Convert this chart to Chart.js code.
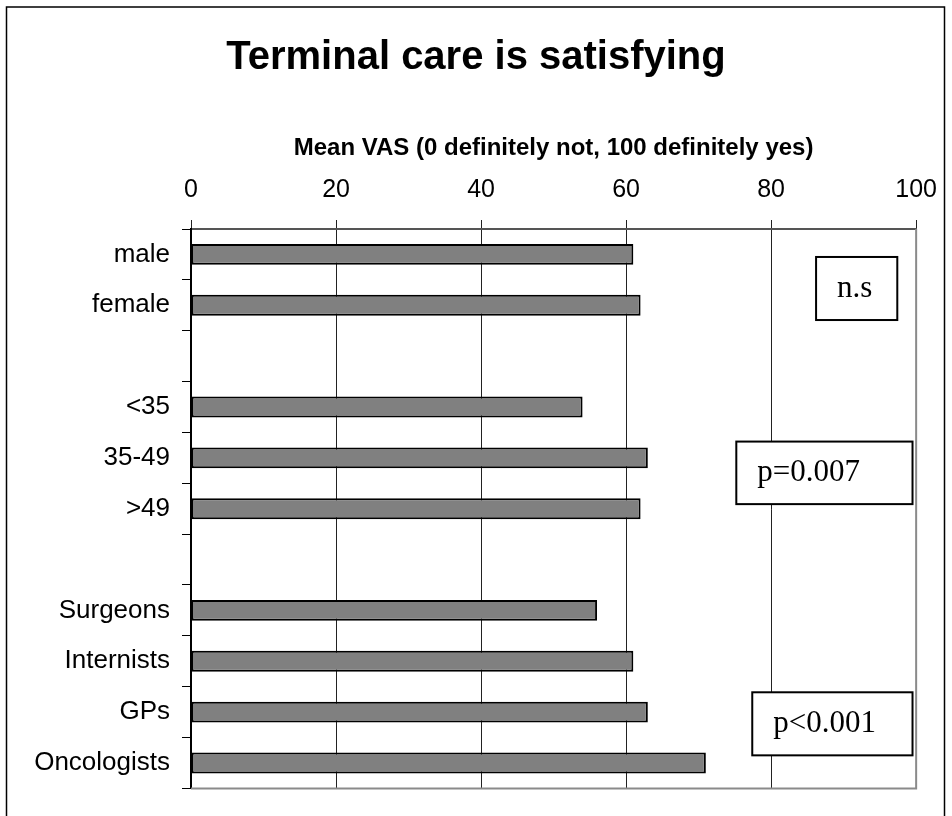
<!DOCTYPE html>
<html>
<head>
<meta charset="utf-8">
<script src="https://cdn.jsdelivr.net/npm/chart.js@4.4.0/dist/chart.umd.min.js"></script>
<style>
  html, body { margin: 0; padding: 0; background: #fff; }
  #wrap { width: 952px; height: 816px; }
</style>
</head>
<body>
<div id="wrap"><canvas id="chart" width="952" height="816"></canvas></div>
<script>
// groups are separated by empty rows, as in the original
var categories = ['male', 'female', '', '<35', '35-49', '>49', '', 'Surgeons', 'Internists', 'GPs', 'Oncologists'];
var meanVas = [61, 62, null, 54, 63, 62, null, 56, 61, 63, 71];
var xTicks = [0, 20, 40, 60, 80, 100];
var groupNotes = ['n.s', 'p=0.007', 'p<0.001'];

// note boxes, in axis units (x = VAS, y = category index)
var noteBoxes = [
   { x0: 86.2, x1: 97.4, y0: 0.05, y1: 1.29 },
   { x0: 75.2, x1: 99.5, y0: 3.68, y1: 4.91 },
   { x0: 77.4, x1: 99.5, y0: 8.61, y1: 9.85 }
];

var notesPlugin = {
   id: 'notes',
   afterDraw: function(chart) {
      var ctx = chart.ctx, xs = chart.scales.x, ys = chart.scales.y, a = chart.chartArea;
      ctx.save();
      // plot area border, right and bottom
      ctx.strokeStyle = '#8a8a8a';
      ctx.lineWidth = 2;
      ctx.beginPath();
      ctx.moveTo(a.right, a.top);
      ctx.lineTo(a.right, a.bottom);
      ctx.lineTo(a.left, a.bottom);
      ctx.stroke();
      // outer frame
      ctx.strokeStyle = '#000';
      ctx.lineWidth = 1.5;
      ctx.strokeRect(6.5, 7, 938, 840);
      // the p value boxes
      ctx.font = '31px "Liberation Serif", "Times New Roman", serif';
      ctx.textAlign = 'left';
      ctx.textBaseline = 'middle';
      noteBoxes.forEach(function(b, i) {
         var l = xs.getPixelForValue(b.x0), r = xs.getPixelForValue(b.x1);
         var t = ys.getPixelForValue(b.y0), btm = ys.getPixelForValue(b.y1);
         ctx.fillStyle = '#fff';
         ctx.fillRect(l, t, r - l, btm - t);
         ctx.strokeStyle = '#000';
         ctx.lineWidth = 2;
         ctx.strokeRect(l, t, r - l, btm - t);
         ctx.fillStyle = '#000';
         ctx.fillText(groupNotes[i], l + 21, (t + btm) / 2);
      });
      ctx.restore();
   }
};

var config = {
   type: 'bar',
   data: {
      labels: categories,
      datasets: [{
         data: meanVas,
         backgroundColor: '#808080',
         borderColor: '#000',
         borderWidth: 2,
         borderSkipped: false,
         barPercentage: 0.41,
         categoryPercentage: 1
      }]
   },
   options: {
      indexAxis: 'y',
      responsive: false,
      animation: false,
      devicePixelRatio: 1,
      layout: { padding: { left: 0, right: 0, top: 0, bottom: 16 } },
      plugins: {
         legend: { display: false },
         tooltip: { enabled: false },
         title: {
            display: true,
            text: 'Terminal care is satisfying',
            color: '#000',
            font: { family: '"Liberation Sans", Arial, sans-serif', size: 40, weight: 'bold' },
            padding: { top: 34, bottom: 0 }
         }
      },
      scales: {
         x: {
            position: 'top',
            min: 0,
            max: 100,
            afterBuildTicks: function(s) {
               s.ticks = xTicks.map(function(v) { return { value: v }; });
            },
            afterFit: function(s) { s.height = 147; },
            grid: { color: '#222', lineWidth: 1, tickLength: 9, drawOnChartArea: true },
            border: { color: '#555', width: 2 },
            ticks: {
               color: '#000',
               padding: 15,
               maxRotation: 0,
               font: { family: '"Liberation Sans", Arial, sans-serif', size: 25 }
            },
            title: {
               display: true,
               text: 'Mean VAS (0 definitely not, 100 definitely yes)',
               color: '#000',
               font: { family: '"Liberation Sans", Arial, sans-serif', size: 24, weight: 'bold' },
               padding: { top: 52, bottom: 0 }
            }
         },
         y: {
            afterFit: function(s) { s.width = 191; },
            grid: { color: '#000', lineWidth: 1, tickLength: 9, drawOnChartArea: false, offset: true },
            border: { color: '#000', width: 2 },
            ticks: {
               color: '#000',
               padding: 12,
               autoSkip: false,
               font: { family: '"Liberation Sans", Arial, sans-serif', size: 26 }
            }
         },
         // empty right margin so the title centres on the whole page
         margin: {
            type: 'linear',
            axis: 'y',
            position: 'right',
            afterFit: function(s) { s.width = 35; },
            grid: { display: false },
            border: { display: false },
            ticks: { display: false }
         }
      }
   },
   plugins: [notesPlugin]
};

var ctx = document.getElementById('chart').getContext('2d');
var chart = new Chart(ctx, config);
</script>
</body>
</html>
